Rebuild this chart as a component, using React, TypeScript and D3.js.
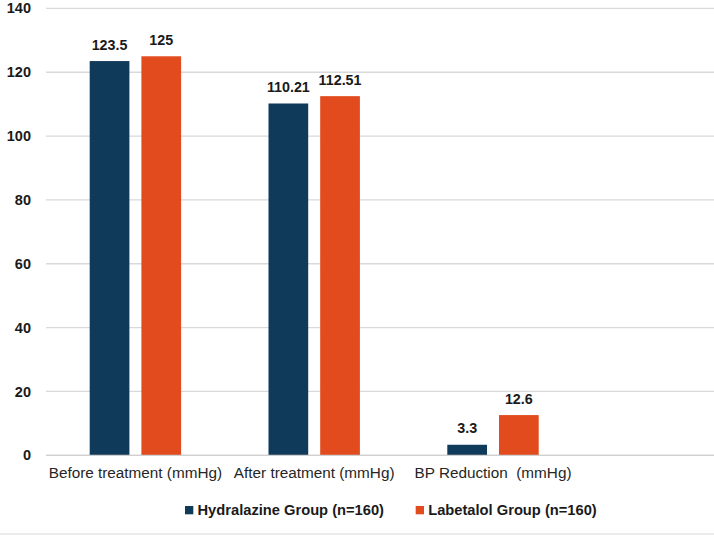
import React from "react";
import * as d3 from "d3";

const categories = ["Before treatment (mmHg)", "After treatment (mmHg)", "BP Reduction  (mmHg)"];
const seriesNames = ["Hydralazine Group (n=160)", "Labetalol Group (n=160)"];
const hydralazine = [123.5, 110.21, 3.3];
const labetalol = [125, 112.51, 12.6];
const valueLabels = [["123.5", "110.21", "3.3"], ["125", "112.51", "12.6"]];
const yTicks = [0, 20, 40, 60, 80, 100, 120, 140];
const colors = ["#0F3A5A", "#E14B1D"];

const W = 714;
const H = 535;
const left = 46;
const bandStep = 178.8;
const top = 8.4;
const bottom = 455.3;

export default function App() {
  const series = [hydralazine, labetalol];
  const x0 = d3
    .scaleBand<string>()
    .domain(categories)
    .range([left, left + bandStep * categories.length])
    .padding(0);
  const innerHalf = 45.7;
  const x1 = d3
    .scaleBand<string>()
    .domain(seriesNames)
    .range([-innerHalf, innerHalf])
    .paddingInner(0.232)
    .paddingOuter(0);
  const y = d3.scaleLinear().domain([0, 140]).range([bottom, top]);

  const font = "'Liberation Sans', Arial, sans-serif";

  return (
    <div style={{ position: "fixed", left: 0, top: 0 }}>
      <svg width={W} height={H} style={{ display: "block", background: "#fff" }} fontFamily={font}>
        {/* gridlines */}
        {yTicks.map((t) => (
          <line key={"g" + t} x1={left} x2={W} y1={y(t)} y2={y(t)} stroke="#D9D9D9" strokeWidth={1.3} />
        ))}
        {/* y tick labels */}
        {yTicks.map((t) => (
          <text key={"t" + t} x={31} y={y(t)} dy="0.35em" textAnchor="end" fontSize={14.5} fontWeight="bold" fill="#1a1a1a">
            {t}
          </text>
        ))}
        {/* bars */}
        {categories.map((c, ci) => {
          const cx = (x0(c) as number) + x0.bandwidth() / 2;
          return (
            <g key={c}>
              {seriesNames.map((s, si) => {
                const v = series[si][ci];
                const bx = cx + (x1(s) as number);
                return (
                  <g key={s}>
                    <rect x={bx} y={y(v)} width={x1.bandwidth()} height={y(0) - y(v)} fill={colors[si]} />
                    <text
                      x={bx + x1.bandwidth() / 2}
                      y={y(v) - 11.5}
                      textAnchor="middle"
                      fontSize={14.3}
                      fontWeight="bold"
                      fill="#1a1a1a"
                    >
                      {valueLabels[si][ci]}
                    </text>
                  </g>
                );
              })}
              <text
                x={cx}
                y={478}
                textAnchor="middle"
                fontSize={15.3}
                fill="#262626"
                style={{ whiteSpace: "pre" }}
              >
                {c}
              </text>
            </g>
          );
        })}
        {/* baseline */}
        <line x1={left} x2={W} y1={y(0)} y2={y(0)} stroke="#D0D0D0" strokeWidth={1.3} />
        {/* legend */}
        {seriesNames.map((s, si) => {
          const lx = [185, 415.7][si];
          return (
            <g key={"l" + s}>
              <rect x={lx} y={506} width={8.3} height={8.3} fill={colors[si]} />
              <text x={lx + 12.5} y={510.2} dy="0.35em" fontSize={14.7} fontWeight="bold" fill="#1a1a1a">
                {s}
              </text>
            </g>
          );
        })}
        {/* outer border */}
        <line x1={0} x2={W} y1={534} y2={534} stroke="#E6E6E6" strokeWidth={1.5} />
      </svg>
    </div>
  );
}
